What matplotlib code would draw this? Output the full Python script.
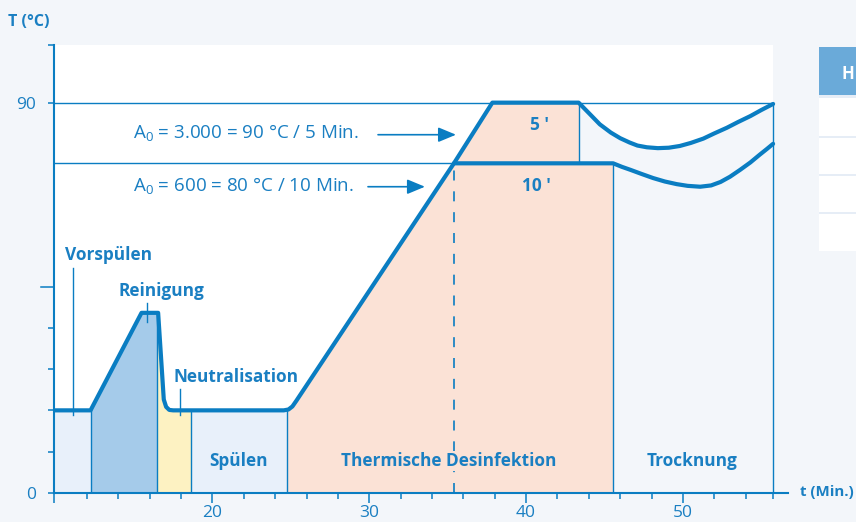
import numpy as np
import matplotlib
matplotlib.use('Agg')
import matplotlib.pyplot as plt
from matplotlib.patches import Rectangle

# Farben
BLUE = '#0a7dc2'
TXT = '#1a7fc2'
BG = '#f3f6fa'
PEACH = '#fbe2d6'

plt.rcParams['font.family'] = ['Open Sans', 'DejaVu Sans']
plt.rcParams['mathtext.fontset'] = 'custom'
plt.rcParams['mathtext.rm'] = 'Open Sans'

# Phasengrenzen (Min.)
t_start = 9.9
t_vorspuelen = 12.23
t_reinigung = 16.48
t_neutral = 18.65
t_spuelen = 24.73
t_80 = 35.4
t_90_end = 43.35
t_desinf = 45.55
t_end = 55.75

T_90 = 90
T_80 = 76      # 80 °C-Niveau in der Skizze
T_low = 19

# Temperaturverlauf bis zum Ende der 90 °C-Haltezeit
main_t = [9.9, 12.23, 15.48, 16.54, 16.9, 17.05, 17.25, 17.5, 24.55, 24.85, 25.1, 25.35, 35.4, 37.85, 43.35]
main_T = [19, 19, 41.5, 41.5, 21.5, 19.8, 19.1, 19, 19, 19.2, 19.9, 21.2, 76, 90, 90]

# Abkühlung nach 90 °C / 5 Min.
cool_hi_t = [43.35, 44.0, 44.7, 45.4, 46.0, 46.6, 47.1, 47.7, 48.4, 49.1, 49.8, 50.5, 51.3, 52.0, 52.8, 53.5, 54.3, 55.0, 55.75]
cool_hi_T = [90.0, 87.6, 85.0, 83.1, 81.8, 80.8, 80.1, 79.7, 79.5, 79.6, 80.0, 80.7, 81.7, 82.9, 84.2, 85.5, 86.9, 88.3, 89.7]

# 80 °C / 10 Min. und Abkühlung
cool_lo_t = [35.4, 45.55, 46.1, 46.65, 47.4, 48.1, 48.85, 49.6, 50.3, 51.1, 51.8, 52.4, 53.0, 53.65, 54.3, 54.9, 55.35, 55.75]
cool_lo_T = [76, 76.0, 75.2, 74.5, 73.5, 72.6, 71.8, 71.2, 70.8, 70.6, 70.9, 71.7, 72.9, 74.5, 76.2, 78.0, 79.3, 80.5]

full_t = main_t + cool_hi_t[1:]
full_T = main_T + cool_hi_T[1:]


def under(ax, t0, t1, ts, Ts, color):
    xs = [t0] + [t for t in ts if t0 < t < t1] + [t1]
    ys = np.interp(xs, ts, Ts)
    ax.fill_between(xs, 0, ys, color=color, lw=0, zorder=1)


fig = plt.figure(figsize=(8.56, 5.22), dpi=100, facecolor=BG)
W, H = 856, 522
ax = fig.add_axes([54 / W, 29.3 / H, 734 / W, 447.7 / H])
ax.set_facecolor(BG)
ax.set_xlim(t_start, 56.7)
ax.set_ylim(0, 103.3)

ax.add_patch(Rectangle((t_start, 0), t_end - t_start, 103.3, color='white', lw=0, zorder=0))

# Flächen
ax.fill_between([t_start, t_vorspuelen], 0, T_low, color='#e8f0fa', lw=0, zorder=1)
under(ax, t_vorspuelen, t_reinigung, full_t, full_T, '#a5cbea')
under(ax, t_reinigung, t_neutral, full_t, full_T, '#fdf2c2')
under(ax, t_neutral, t_spuelen, full_t, full_T, '#e8f0fa')
under(ax, t_90_end, t_end, full_t, full_T, '#f3f6fa')
under(ax, t_spuelen, t_90_end, full_t, full_T, PEACH)
ax.fill_between([t_90_end, t_desinf], 0, T_80, color=PEACH, lw=0, zorder=1)

# duenne Linien
thin = dict(color=BLUE, lw=1.0, zorder=2)
ax.plot([t_start, t_end], [T_90, T_90], **thin)
ax.plot([t_start, t_80], [T_80, T_80], **thin)
ax.plot([t_vorspuelen] * 2, [0, T_low], **thin)
ax.plot([t_reinigung] * 2, [0, 41.5], **thin)
ax.plot([t_neutral] * 2, [0, T_low], **thin)
ax.plot([t_spuelen] * 2, [0, T_low], **thin)
ax.plot([t_90_end] * 2, [T_80, T_90], **thin)
ax.plot([t_desinf] * 2, [0, T_80], **thin)
ax.plot([t_end] * 2, [0, 89.7], **thin)
ax.plot([t_80] * 2, [0, T_80], color=BLUE, lw=1.2, dashes=(6, 6.5), zorder=2)

# Markierungen der Beschriftungen
ax.plot([11.12] * 2, [17.9, 51.9], **thin)
ax.plot([15.84] * 2, [39.5, 43.8], **thin)
ax.plot([17.93] * 2, [17.9, 23.9], **thin)

# Temperaturkurven
ax.plot(full_t, full_T, color=BLUE, lw=3, solid_joinstyle='round', solid_capstyle='round', zorder=4)
ax.plot(cool_lo_t, cool_lo_T, color=BLUE, lw=3, solid_joinstyle='round', solid_capstyle='round', zorder=4)

# Achsen
for s in ['top', 'right']:
    ax.spines[s].set_visible(False)
for s in ['left', 'bottom']:
    ax.spines[s].set_color(BLUE)
    ax.spines[s].set_linewidth(1.5)

ax.set_xticks([t_start, 20, 30, 40, 50])
ax.set_xticklabels(['', '20', '30', '40', '50'])
ax.set_xticks([12, 14, 16, 18, 22, 24, 26, 28, 32, 34, 36, 38, 42, 44, 46, 48, 52, 54, t_end], minor=True)
ax.set_yticks([0, 90])
ax.set_yticklabels(['0', '90'])
ax.set_yticks([9.5, 19, 28.5, 38, 103.3], minor=True)
ax.tick_params(axis='x', which='major', length=7.2, width=1.1, color=BLUE, labelcolor=TXT, labelsize=12.5, pad=2)
ax.tick_params(axis='x', which='minor', length=4, width=1.1, color=BLUE)
ax.tick_params(axis='y', which='both', length=4, width=1.1, color=BLUE, labelcolor=TXT, labelsize=12.5, pad=9)
ax.plot([t_start - 0.83, t_start], [47.5, 47.5], color=BLUE, lw=1.1, clip_on=False, zorder=5)

fig.text(8 / W, 1 - 22 / H, 'T (°C)', ha='left', va='center', color=TXT, fontsize=11.5, fontweight='bold')
fig.text(800 / W, 1 - 492 / H, 't (Min.)', ha='left', va='center', color=TXT, fontsize=10.8, fontweight='bold')

bold = dict(color=TXT, fontsize=12.4, fontweight='bold')
ax.text(10.6, 54.9, 'Vorspülen', ha='left', va='center', **bold)
ax.text(16.78, 46.6, 'Reinigung', ha='center', va='center', **bold)
ax.text(21.5, 26.7, 'Neutralisation', ha='center', va='center', **bold)
ax.text(21.69, 7.3, 'Spülen', ha='center', va='center', **bold)
ax.text(35.05, 7.3, 'Thermische Desinfektion', ha='center', va='center', zorder=3,
        bbox=dict(facecolor=PEACH, edgecolor='none', pad=1), **bold)
ax.text(50.6, 7.3, 'Trocknung', ha='center', va='center', **bold)
ax.text(40.88, 84.9, "5 '", ha='center', va='center', **bold)
ax.text(40.63, 70.8, "10 '", ha='center', va='center', **bold)

ax.text(14.93, 82.8, r'A$_\mathrm{0}$ = 3.000 = 90 °C / 5 Min.', ha='left', va='center', color=TXT, fontsize=13.5)
ax.text(14.93, 70.8, r'A$_\mathrm{0}$ = 600 = 80 °C / 10 Min.', ha='left', va='center', color=TXT, fontsize=13.5)

arr = dict(arrowstyle='-|>,head_length=0.6,head_width=0.25', color=BLUE, lw=1.2, mutation_scale=18,
           shrinkA=0, shrinkB=0)
ax.annotate('', xy=(35.53, 82.6), xytext=(30.56, 82.6), arrowprops=arr)
ax.annotate('', xy=(33.55, 70.6), xytext=(29.92, 70.6), arrowprops=arr)


# Tabelle rechts (angeschnitten)
def px_rect(x0, y0, x1, y1, color):
    fig.add_artist(Rectangle((x0 / W, 1 - y1 / H), (x1 - x0) / W, (y1 - y0) / H,
                             transform=fig.transFigure, color=color, lw=0))


px_rect(819, 96, 856, 251, 'white')
px_rect(819, 47, 856, 95.7, '#6aaad9')
for yy in [96.7, 136.7, 175, 212.7]:
    px_rect(819, yy - 1.2, 856, yy + 1.2, '#e6edf6')
fig.text(848 / W, 1 - 74 / H, 'H', ha='center', va='center', color='white', fontsize=12, fontweight='bold')

fig.savefig('out.png', dpi=100, facecolor=BG)
